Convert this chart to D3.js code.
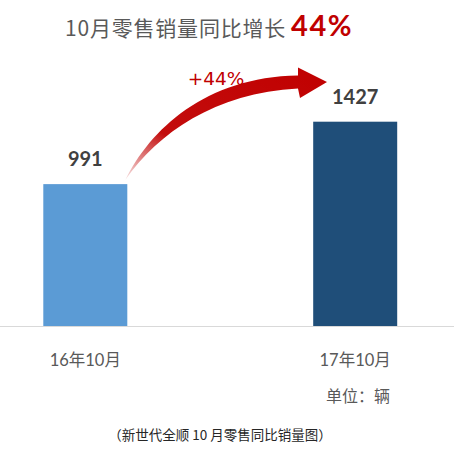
<!DOCTYPE html>
<html>
<head>
<meta charset="utf-8">
<script src="https://cdn.jsdelivr.net/npm/d3@7"></script>
<style>
  body { margin: 0; background: #fff; }
  text { font-family: "Lato", "Noto Sans CJK SC", sans-serif; }
  .cjk { font-family: "Noto Sans CJK SC", sans-serif; }
</style>
</head>
<body>
<script>
var width = 454;
var height = 452;

// data
var categories = ["16年10月", "17年10月"];
var values = [991, 1427];
var barColors = ["#5b9bd5", "#1f4e79"];
var growthLabel = "+44%";
var titleText = "10月零售销量同比增长";
var titleHighlight = "44%";
var unitText = "单位：辆";
var noteText = "（新世代全顺 10 月零售同比销量图）";

var svg = d3.select("body")
    .append("svg")
    .attr("width", width)
    .attr("height", height);

var x = d3.scalePoint()
    .domain(categories)
    .range([85.3, 355.2]);
var barWidth = 84;

var y = d3.scaleLinear()
    .domain([0, 1427])
    .range([326, 121.7]);

// title
var title = svg.append("text")
    .attr("x", 65)
    .attr("y", 36);
title.append("tspan")
    .attr("class", "cjk")
    .style("fill", "#595959")
    .style("font-size", "21px")
    .style("letter-spacing", "0.8px")
    .text(titleText);
title.append("tspan")
    .attr("dx", 5)
    .style("fill", "#c00000")
    .style("font-size", "29px")
    .style("font-weight", "bold")
    .style("letter-spacing", "1.5px")
    .style("font-family", "Lato, sans-serif")
    .text(titleHighlight);

// baseline
svg.append("line")
    .attr("x1", 0)
    .attr("x2", width)
    .attr("y1", y(0) + 0.5)
    .attr("y2", y(0) + 0.5)
    .style("stroke", "#d9d9d9")
    .style("stroke-width", 1);

// bars
svg.selectAll("rect.bar")
    .data(values)
    .enter().append("rect")
    .attr("class", "bar")
    .attr("x", function(d, i) { return x(categories[i]) - barWidth / 2; })
    .attr("y", function(d) { return y(d); })
    .attr("width", barWidth)
    .attr("height", function(d) { return y(0) - y(d); })
    .style("fill", function(d, i) { return barColors[i]; });

// value labels
svg.selectAll("text.val")
    .data(values)
    .enter().append("text")
    .attr("class", "val")
    .attr("x", function(d, i) { return x(categories[i]); })
    .attr("y", function(d) { return y(d) - 18; })
    .attr("text-anchor", "middle")
    .style("font-size", "20px")
    .style("font-weight", "bold")
    .style("fill", "#404040")
    .text(function(d) { return d; });

// category labels
svg.selectAll("text.cat")
    .data(categories)
    .enter().append("text")
    .attr("class", "cat")
    .attr("x", function(d) { return x(d); })
    .attr("y", 366)
    .attr("text-anchor", "middle")
    .style("font-size", "16.5px")
    .style("fill", "#595959")
    .text(function(d) { return d; });

// unit
svg.append("text")
    .attr("class", "cjk")
    .attr("x", 390)
    .attr("y", 402)
    .attr("text-anchor", "end")
    .style("font-size", "16px")
    .style("fill", "#595959")
    .text(unitText);

// footnote
svg.append("text")
    .attr("class", "cjk")
    .attr("x", 220)
    .attr("y", 440)
    .attr("text-anchor", "middle")
    .style("font-size", "13.5px")
    .style("fill", "#262626")
    .text(noteText);

// curved arrow from first bar to second
var defs = svg.append("defs");
var grad = defs.append("linearGradient")
    .attr("id", "arrowGrad")
    .attr("x1", "0%").attr("y1", "100%")
    .attr("x2", "100%").attr("y2", "0%");
grad.append("stop").attr("offset", "0%").style("stop-color", "#c00000").style("stop-opacity", 0.1);
grad.append("stop").attr("offset", "30%").style("stop-color", "#c00000").style("stop-opacity", 0.95);
grad.append("stop").attr("offset", "100%").style("stop-color", "#c00000").style("stop-opacity", 1);

var sx = x(categories[0]) + barWidth / 2 - 2;
var sy = y(values[0]) - 4;
var hx = 298;
var tipX = 327;
var tipY = 82;

var p = d3.path();
p.moveTo(sx, sy);
p.bezierCurveTo(150, 130, 205, 77, hx, 75.5);
p.lineTo(hx, 67.5);
p.lineTo(tipX, tipY);
p.lineTo(300, 98);
p.lineTo(hx, 88.5);
p.bezierCurveTo(215, 93, 158, 133, sx, sy);
p.closePath();

svg.append("path")
    .attr("d", p.toString())
    .style("fill", "url(#arrowGrad)");

svg.append("text")
    .attr("x", 216)
    .attr("y", 85)
    .attr("text-anchor", "middle")
    .style("font-family", "DejaVu Sans, sans-serif")
    .style("font-size", "18.5px")
    .style("fill", "#c00000")
    .text(growthLabel);
</script>
</body>
</html>
